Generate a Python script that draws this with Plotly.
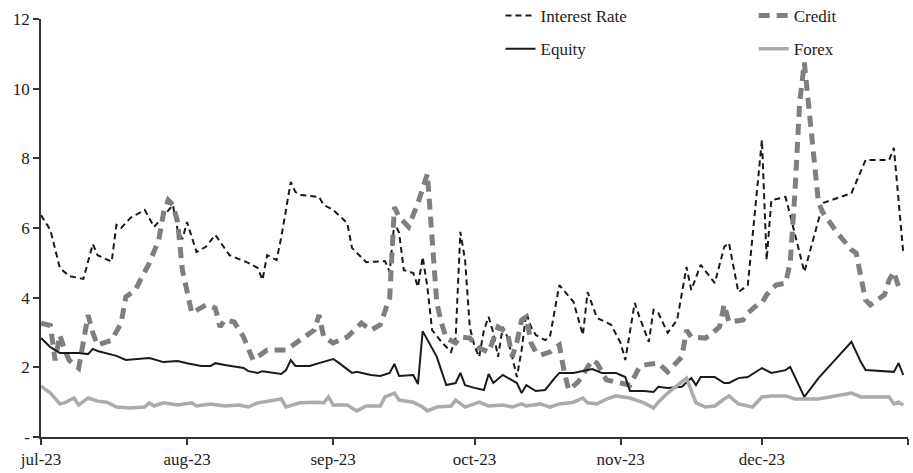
import plotly.graph_objects as go

# ---------------- data ----------------
YEAR = "2023-"

ir_dates = ["07-01","07-03","07-05","07-07","07-10","07-12","07-13","07-16","07-17","07-18",
            "07-20","07-23","07-25","07-29","07-30","07-31","08-01","08-03","08-05","08-07",
            "08-10","08-11","08-14","08-16","08-17","08-18","08-20","08-21","08-23","08-24",
            "08-25","08-29","08-30","09-01","09-04","09-05","09-07","09-08","09-12","09-13",
            "09-14","09-15","09-16","09-18","09-19","09-20","09-21","09-22","09-24","09-26",
            "09-27","09-28","09-29","09-30","10-01","10-02","10-03","10-04","10-05","10-06",
            "10-07","10-08","10-10","10-11","10-12","10-13","10-14","10-16","10-17","10-18",
            "10-19","10-22","10-24","10-25","10-27","10-30","11-01","11-02","11-04","11-05",
            "11-07","11-08","11-09","11-11","11-13","11-15","11-16","11-18","11-21","11-23",
            "11-24","11-26","11-28","12-01","12-02","12-03","12-06","12-07","12-10","12-14",
            "12-20","12-23","12-28","12-29","12-31"]
ir_values = [6.37,5.94,4.85,4.62,4.54,5.54,5.22,5.03,6.09,6.00,
             6.29,6.52,6.03,6.66,5.94,5.68,6.17,5.31,5.46,5.80,
             5.22,5.17,5.00,4.85,4.51,5.22,5.08,5.74,7.32,7.03,
             6.95,6.89,6.66,6.52,6.14,5.43,5.17,5.02,5.05,4.74,
             6.17,5.86,4.79,4.71,4.31,5.17,4.31,3.07,2.73,2.44,
             2.84,5.89,5.08,3.16,2.60,2.30,3.07,3.45,2.99,2.30,
             3.16,2.87,1.72,2.50,3.56,3.16,2.93,2.78,2.87,3.56,
             4.36,3.88,2.93,4.16,3.42,3.22,2.70,2.21,3.85,3.45,
             2.73,3.65,3.56,2.99,3.36,4.88,4.22,4.94,4.42,5.46,
             5.57,4.16,4.36,8.53,5.08,6.80,6.89,6.37,4.74,6.72,
             7.00,7.95,7.95,8.30,5.28]

cr_dates = ["07-01","07-03","07-04","07-05","07-06","07-07","07-09","07-10","07-11","07-12",
            "07-13","07-16","07-18","07-19","07-21","07-24","07-26","07-27","07-28","07-29",
            "07-30","07-31","08-01","08-02","08-05","08-07","08-08","08-09","08-11","08-13",
            "08-15","08-18","08-22","08-25","08-28","08-29","08-30","09-01","09-04","09-07",
            "09-09","09-11","09-13","09-14","09-15","09-17","09-19","09-21","09-22","09-23",
            "09-24","09-25","09-27","09-28","09-30","10-01","10-02","10-04","10-06","10-08",
            "10-09","10-10","10-11","10-12","10-13","10-14","10-15","10-17","10-19","10-20",
            "10-21","10-23","10-24","10-26","10-27","10-29","11-01","11-03","11-05","11-06",
            "11-09","11-10","11-11","11-14","11-15","11-16","11-19","11-20","11-22","11-23",
            "11-24","11-27","11-28","11-30","12-01","12-02","12-04","12-06","12-07","12-08",
            "12-09","12-10","12-11","12-12","12-13","12-14","12-17","12-20","12-21","12-22",
            "12-23","12-24","12-27","12-28","12-29","12-30"]
cr_values = [3.27,3.20,2.20,2.93,2.50,2.20,1.98,2.78,3.50,2.99,
             2.64,2.78,3.27,4.02,4.22,5.00,5.66,6.43,6.80,6.66,
             6.17,4.80,4.13,3.56,3.79,3.70,3.16,3.36,3.30,2.87,
             2.21,2.50,2.50,2.78,3.07,3.50,2.87,2.70,2.87,3.27,
             3.07,3.22,4.00,6.60,6.32,6.03,6.72,7.55,5.80,3.85,
             3.27,2.84,2.70,2.87,2.84,2.70,2.55,2.44,3.16,2.99,
             2.30,2.73,3.36,3.45,2.70,2.44,2.35,2.44,2.64,1.90,
             1.35,1.58,1.78,2.21,2.12,1.64,1.55,1.49,2.01,2.07,
             2.12,2.01,1.87,2.30,3.07,2.87,2.84,2.93,3.16,3.80,
             3.30,3.36,3.56,3.79,3.85,4.08,4.36,4.42,5.00,7.00,
             9.60,10.75,9.30,7.80,6.72,6.43,5.86,5.37,5.28,4.60,
             3.93,3.79,4.08,4.51,4.74,4.31]

eq_dates = ["07-01","07-02","07-03","07-05","07-07","07-09","07-11","07-12","07-13","07-16",
            "07-17","07-19","07-22","07-24","07-27","07-30","08-01","08-04","08-06","08-07",
            "08-09","08-13","08-14","08-16","08-17","08-21","08-22","08-23","08-24","08-27",
            "08-29","09-01","09-02","09-03","09-05","09-06","09-09","09-11","09-13","09-14",
            "09-15","09-18","09-19","09-20","09-23","09-25","09-27","09-28","09-29","10-01",
            "10-03","10-04","10-05","10-07","10-09","10-10","10-11","10-12","10-14","10-16",
            "10-18","10-19","10-22","10-26","10-28","10-31","11-01","11-02","11-03","11-06",
            "11-08","11-09","11-11","11-14","11-16","11-17","11-18","11-21","11-23","11-24",
            "11-26","11-28","12-01","12-03","12-06","12-07","12-10","12-13","12-20","12-22",
            "12-23","12-29","12-30","12-31"]
eq_values = [2.84,2.70,2.58,2.41,2.41,2.41,2.38,2.53,2.47,2.38,
             2.33,2.21,2.24,2.27,2.15,2.18,2.12,2.04,2.04,2.12,
             2.07,1.98,1.89,1.84,1.89,1.81,1.92,2.21,2.04,2.04,
             2.12,2.24,2.15,2.04,1.84,1.87,1.78,1.75,1.84,2.10,
             1.75,1.78,1.52,3.04,2.30,1.49,1.55,1.84,1.49,1.41,
             1.35,1.81,1.55,1.78,1.64,1.55,1.26,1.49,1.32,1.35,
             1.69,1.84,1.84,1.95,1.84,1.84,1.78,1.72,1.32,1.32,
             1.29,1.44,1.41,1.44,1.69,1.49,1.72,1.72,1.55,1.55,
             1.69,1.72,1.98,1.84,1.92,2.01,1.15,1.69,2.73,2.15,
             1.92,1.87,2.12,1.78]

fx_dates = ["07-01","07-03","07-05","07-06","07-08","07-09","07-11","07-13","07-15","07-17",
            "07-20","07-23","07-24","07-25","07-27","07-30","08-02","08-03","08-06","08-09",
            "08-12","08-14","08-16","08-21","08-22","08-25","08-29","08-30","08-31","09-01",
            "09-04","09-06","09-08","09-11","09-12","09-14","09-15","09-18","09-20","09-21",
            "09-23","09-26","09-27","09-29","10-02","10-04","10-07","10-09","10-11","10-12",
            "10-15","10-17","10-19","10-22","10-24","10-25","10-27","10-29","10-31","11-02",
            "11-03","11-06","11-08","11-09","11-11","11-15","11-16","11-17","11-19","11-21",
            "11-23","11-24","11-26","11-29","12-01","12-03","12-06","12-08","12-13","12-20",
            "12-22","12-28","12-29","12-30","12-31"]
fx_values = [1.46,1.26,0.95,0.98,1.12,0.92,1.12,1.03,1.00,0.86,
             0.83,0.86,0.98,0.89,0.98,0.92,0.98,0.89,0.95,0.89,
             0.92,0.86,0.98,1.09,0.86,0.98,1.00,0.98,1.15,0.92,
             0.92,0.75,0.89,0.89,1.15,1.26,1.06,1.00,0.86,0.75,
             0.86,0.89,1.06,0.86,1.00,0.89,0.92,0.86,0.95,0.89,
             0.95,0.86,0.95,1.00,1.12,0.98,0.95,1.09,1.18,1.15,
             1.12,0.98,0.83,1.00,1.26,1.69,1.35,0.98,0.86,0.89,
             1.09,1.18,0.95,0.86,1.15,1.18,1.18,1.09,1.09,1.26,
             1.15,1.15,0.95,1.00,0.92]

tick_dates = ["2023-07-01","2023-08-01","2023-09-01","2023-10-01","2023-11-01","2023-12-01","2024-01-01"]
tick_labels = ["jul-23","aug-23","sep-23","oct-23","nov-23","dec-23",""]
y_ticks = [0, 2, 4, 6, 8, 10, 12]
y_tick_labels = ["-", "2", "4", "6", "8", "10", "12"]

# ---------------- figure ----------------
FONT = '"Liberation Serif", "Times New Roman", "DejaVu Serif", serif'
TXT = "#222222"

def full(ds):
    return [YEAR + d for d in ds]

fig = go.Figure()
fig.add_trace(go.Scatter(x=full(ir_dates), y=ir_values, mode="lines", name="Interest Rate",
                         line=dict(color="#1a1a1a", width=2, dash="6px,4px"), legend="legend"))
fig.add_trace(go.Scatter(x=full(cr_dates), y=cr_values, mode="lines", name="Credit",
                         line=dict(color="#7f7f7f", width=5, dash="11px,7px"), legend="legend2"))
fig.add_trace(go.Scatter(x=full(eq_dates), y=eq_values, mode="lines", name="Equity",
                         line=dict(color="#1a1a1a", width=2), legend="legend3"))
fig.add_trace(go.Scatter(x=full(fx_dates), y=fx_values, mode="lines", name="Forex",
                         line=dict(color="#ababab", width=3.5), legend="legend4"))

def leg(x, y):
    return dict(x=x, y=y, xanchor="left", yanchor="middle", orientation="v",
                bgcolor="rgba(0,0,0,0)", borderwidth=0,
                font=dict(family=FONT, size=17, color=TXT))

fig.update_layout(
    width=913, height=473,
    margin=dict(l=41, r=5, t=19, b=36, autoexpand=False),
    paper_bgcolor="white", plot_bgcolor="white",
    font=dict(family=FONT, size=17, color=TXT),
    showlegend=True,
    legend=leg(0.530, 1.007),
    legend2=leg(0.822, 1.007),
    legend3=leg(0.530, 0.928),
    legend4=leg(0.822, 0.928),
    xaxis=dict(type="date", range=["2023-07-01", "2024-01-01"],
               tickvals=tick_dates, ticktext=tick_labels,
               showgrid=False, zeroline=False, showline=True, linecolor="#333", linewidth=1.5,
               ticks="outside", ticklen=6, tickcolor="#333", tickwidth=1.5,
               tickfont=dict(family=FONT, size=17, color=TXT)),
    yaxis=dict(range=[0, 12], tickvals=y_ticks, ticktext=y_tick_labels,
               showgrid=False, zeroline=False, showline=True, linecolor="#333", linewidth=1.5,
               ticks="outside", ticklen=6, tickcolor="#333", tickwidth=1.5,
               tickfont=dict(family=FONT, size=17, color=TXT)),
)

fig.write_html("out.html", config={"displayModeBar": False},
               post_script="document.body.style.margin='0';")
